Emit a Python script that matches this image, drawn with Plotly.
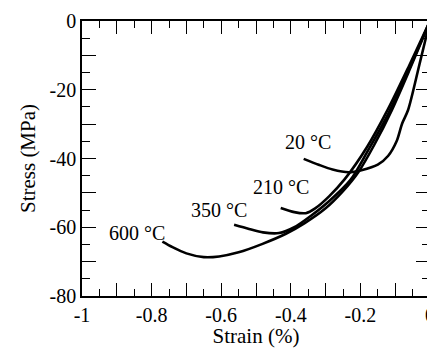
import plotly.graph_objects as go

# Data (strain in %, stress in MPa)
strain_20 = [0, -0.03, -0.063, -0.08, -0.096, -0.12, -0.15, -0.197, -0.234, -0.28, -0.32, -0.363]
stress_20 = [0, -12.5, -25.9, -29.8, -35.0, -39.2, -41.8, -43.4, -44.0, -43.2, -41.8, -40.1]

strain_210 = [0, -0.06, -0.12, -0.18, -0.245, -0.29, -0.33, -0.357, -0.39, -0.429]
stress_210 = [0, -13.0, -25.5, -36.5, -46.0, -51.0, -54.5, -55.9, -55.6, -54.4]

strain_350 = [0, -0.06, -0.12, -0.18, -0.229, -0.291, -0.34, -0.39, -0.434, -0.48, -0.52, -0.563]
stress_350 = [0, -14.0, -27.0, -38.0, -46.3, -52.5, -56.5, -60.0, -61.7, -61.5, -60.5, -59.3]

strain_600 = [0, -0.06, -0.11, -0.16, -0.206, -0.25, -0.30, -0.36, -0.414, -0.483, -0.55, -0.606, -0.65, -0.70, -0.74, -0.769]
stress_600 = [0, -14.5, -26.0, -36.0, -44.0, -49.5, -54.5, -58.8, -61.9, -64.9, -67.3, -68.5, -68.7, -67.6, -65.8, -64.2]

labels = ["20 °C", "210 °C", "350 °C", "600 °C"]
label_x = [-0.351, -0.427, -0.607, -0.841]
label_y = [-35.3, -48.4, -55.0, -61.8]

x_tickvals = [-1, -0.9, -0.8, -0.7, -0.6, -0.5, -0.4, -0.3, -0.2, -0.1, 0]
x_ticktext = ["-1", "", "-0.8", "", "-0.6", "", "-0.4", "", "-0.2", "", "0"]
y_tickvals = [-80, -70, -60, -50, -40, -30, -20, -10, 0]
y_ticktext = ["-80", "", "-60", "", "-40", "", "-20", "", "0"]

FONT = "Liberation Serif, Times New Roman, serif"

fig = go.Figure()
for sx, sy in [(strain_20, stress_20), (strain_210, stress_210),
               (strain_350, stress_350), (strain_600, stress_600)]:
    fig.add_trace(go.Scatter(x=sx, y=sy, mode="lines",
                             line=dict(color="black", width=2.6, shape="spline", smoothing=0.8),
                             showlegend=False, hoverinfo="skip"))

# empty trace so the right-hand frame axis is rendered
fig.add_trace(go.Scatter(x=[None], y=[None], yaxis="y2", mode="lines",
                         showlegend=False, hoverinfo="skip"))

for t, x, y in zip(labels, label_x, label_y):
    fig.add_annotation(x=x, y=y, text=t, showarrow=False,
                       font=dict(family=FONT, size=20, color="black"),
                       xanchor="center", yanchor="middle")

axis_common = dict(showline=True, linecolor="black", linewidth=1.5, mirror="ticks",
                   ticks="inside", tickcolor="black", tickwidth=1.2, showgrid=False,
                   zeroline=False, automargin=False,
                   tickfont=dict(family=FONT, size=20, color="black"))

fig.update_xaxes(range=[-1, 0], tickmode="array", tickvals=x_tickvals, ticktext=x_ticktext,
                 ticklen=13, minor=dict(dtick=0.05, ticklen=7, ticks="inside", tickcolor="black", tickwidth=1.2),
                 title=dict(text="Strain (%)", font=dict(family=FONT, size=21, color="black"), standoff=6),
                 **axis_common)
fig.update_yaxes(range=[-80, 0], tickmode="array", tickvals=y_tickvals, ticktext=y_ticktext,
                 ticklen=14, minor=dict(dtick=5, ticklen=8, ticks="inside", tickcolor="black", tickwidth=1.2),
                 title=dict(text="Stress (MPa)", font=dict(family=FONT, size=21, color="black"), standoff=8),
                 **axis_common)

fig.update_layout(
    yaxis2=dict(overlaying="y", side="right", anchor="x", range=[-80, 0],
                tickmode="array", tickvals=y_tickvals, ticktext=[""] * len(y_tickvals),
                showline=True, linecolor="black", linewidth=1.5,
                ticks="inside", ticklen=14, tickcolor="black", tickwidth=1.2,
                minor=dict(dtick=5, ticklen=8, ticks="inside", tickcolor="black", tickwidth=1.2),
                showgrid=False, zeroline=False, automargin=False),
    width=427, height=340, margin=dict(l=74, r=5, t=13, b=52),
    plot_bgcolor="white", paper_bgcolor="white",
    font=dict(family=FONT, size=20, color="black"))

fig.write_html("out.html")
